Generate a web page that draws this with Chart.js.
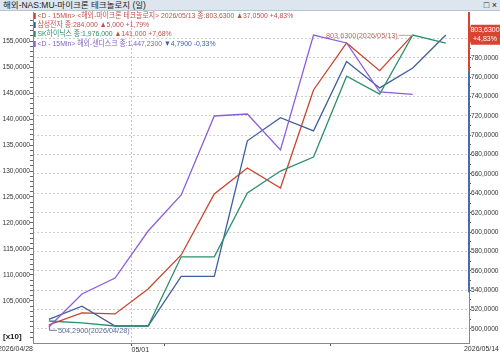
<!DOCTYPE html>
<html>
<head>
<meta charset="utf-8">
<script src="https://cdn.jsdelivr.net/npm/chart.js@4"></script>
<style>
  body { margin: 0; background: #fff; }
  #wrap { position: relative; width: 500px; height: 354px; font-family: "Liberation Sans", "Noto Sans CJK KR", sans-serif; }
  #title { position: absolute; left: 0; top: 0; width: 500px; height: 11px; background: #dde6ef; border-bottom: 1px solid #b8c4d0;
           font-size: 8.5px; line-height: 11px; color: #222; padding-left: 3px; box-sizing: border-box; }
  #title .btns { position: absolute; right: 3px; top: 0; font-size: 9px; }
  .leg { position: absolute; left: 34px; font-size: 8px; line-height: 9px; white-space: nowrap;
         transform: scaleX(0.86); transform-origin: 0 0; }
  .leg i { display: inline-block; width: 2px; height: 6px; margin-right: 2px; vertical-align: -0.5px; }
  canvas { position: absolute; left: 0; top: 0; }
</style>
</head>
<body>
<div id="wrap">
  <canvas id="chart" width="500" height="354"></canvas>
  <div id="title">해외-NAS:MU-마이크론 테크놀로지 (일)<span class="btns">□ ×</span></div>
  <div class="leg" style="top:11px;color:#c0504d"><i style="background:#c8442c"></i>&lt;D - 15Min&gt; &lt;해외-마이크론 테크놀로지&gt; 2026/05/13 종:803,6300 ▲37,0500 +4,83%</div>
  <div class="leg" style="top:20px;color:#c0504d"><i style="background:#3e5f9c"></i>삼성전자 종:284,000 ▲5,000 +1,79%</div>
  <div class="leg" style="top:29px;color:#2e8f6c"><i style="background:#2e8f6c"></i>SK하이닉스 종:1,976,000 <span style="color:#c0504d">▲141,000 +7,68%</span></div>
  <div class="leg" style="top:39px;color:#7d5fc8"><i style="background:#8b5fd8"></i>&lt;D - 15Min&gt; 해외-샌디스크 종:1,447,2300 <span style="color:#3b5ba5">▼4,7900 -0,33%</span></div>
</div>
<script>
// dates (one point per trading day)
const dates = ['2026/04/28', '04/29', '04/30', '05/01', '05/04', '05/05', '05/06', '05/07', '05/08', '05/11', '05/12', '05/13', '2026/05/14'];

// series values
const micron  = [504.29, 516.5, 515.5, 541.3, 576.4, 639.4, 666.2, 645.5, 746.7, 795.2, 766.58, 803.63];
const samsung = [241000, 243000, 240000, 240000, 247500, 247500, 268000, 271500, 269500, 280000, 276000, 279000, 284000];
const hynix   = [1253000, 1248000, 1240000, 1240000, 1420000, 1420000, 1586000, 1643000, 1679500, 1890000, 1843500, 1997000, 1976000];
const sandisk = [1000, 1063.5, 1094, 1184.6, 1254, 1405.8, 1409.6, 1340.4, 1561.5, 1546.2, 1452.0, 1447.23];

// axis ranges / tick labels
const rightRange = [485.5, 827.2];
const leftRange = [969.2, 1605.8];
const leftLabelRange = [1050, 1550];
const xRange = [-0.48, 12.7];
const xTicks = [2.5, 3.5, 8.5];
const xTickLabels = { 2.5: '05/01' };
const rangeBand = [538, 766.58];

const colors = { micron: '#c8442c', samsung: '#3e5f9c', hynix: '#2e8f6c', sandisk: '#8b5fd8' };

const pts = arr => arr.map((v, i) => ({ x: i, y: v }));
const fmt4 = v => v.toFixed(4).replace('.', ',');

// overlay series are stretched to the same band as the main series
function fitAxis(arr) {
  const lo = Math.min(...arr), hi = Math.max(...arr);
  const ppu = 291 / (hi - lo);
  return { min: lo - 17 / ppu, max: hi + 23 / ppu };
}
const sAxis = fitAxis(samsung), hAxis = fitAxis(hynix);

const tickFont = { family: 'Liberation Sans', size: 6.6 };

const overlay = {
  id: 'overlay',
  afterDatasetsDraw(chart) {
    const ctx = chart.ctx, xs = chart.scales.x, yr = chart.scales.yR, area = chart.chartArea;
    ctx.save();
    // right axis band
    ctx.lineWidth = 2;
    ctx.strokeStyle = '#d9432f';
    ctx.beginPath(); ctx.moveTo(area.right, area.top); ctx.lineTo(area.right, yr.getPixelForValue(rangeBand[1])); ctx.stroke();
    ctx.strokeStyle = '#4a6aa8';
    ctx.beginPath(); ctx.moveTo(area.right, yr.getPixelForValue(rangeBand[1])); ctx.lineTo(area.right, yr.getPixelForValue(rangeBand[0])); ctx.stroke();

    ctx.font = '7.3px "Liberation Sans"';
    ctx.textBaseline = 'middle';
    // max label
    const last = micron.length - 1;
    const mx = xs.getPixelForValue(last), my = yr.getPixelForValue(micron[last]);
    ctx.strokeStyle = '#d9968c'; ctx.lineWidth = 1;
    ctx.beginPath(); ctx.moveTo(mx - 14, my + 0.5); ctx.lineTo(mx, my + 0.5); ctx.stroke();
    ctx.fillStyle = '#b86a5e'; ctx.textAlign = 'right';
    ctx.fillText(fmt4(micron[last]) + '(2026/05/13)', mx - 15, my + 1);
    // min label
    const nx = xs.getPixelForValue(0), ny = yr.getPixelForValue(micron[0]);
    ctx.strokeStyle = '#6c7aa8';
    ctx.beginPath(); ctx.moveTo(nx + 0.5, ny); ctx.lineTo(nx + 0.5, ny + 5.5); ctx.lineTo(nx + 8, ny + 5.5); ctx.stroke();
    ctx.fillStyle = '#5b6b9e'; ctx.textAlign = 'left';
    ctx.fillText(fmt4(micron[0]) + '(2026/04/28)', nx + 9, ny + 6);
    // price box on right axis
    ctx.fillStyle = '#d9432f';
    ctx.beginPath();
    ctx.moveTo(area.right - 1, my); ctx.lineTo(area.right + 2, my - 10); ctx.lineTo(500, my - 10);
    ctx.lineTo(500, my + 10); ctx.lineTo(area.right + 2, my + 10); ctx.closePath(); ctx.fill();
    ctx.fillStyle = '#fff'; ctx.textAlign = 'center'; ctx.font = '7px "Liberation Sans"';
    ctx.fillText(fmt4(micron[last]), 485, my - 4.5);
    ctx.fillText('+4,83%', 485, my + 4.5);
    // corner dates and unit
    ctx.fillStyle = '#333'; ctx.font = '7px "Liberation Sans"';
    ctx.textAlign = 'right'; ctx.fillText(dates[0], area.left, area.bottom + 6);
    ctx.fillText(dates[dates.length - 1], 499, area.bottom + 6);
    ctx.textAlign = 'left'; ctx.font = 'bold 8px "Liberation Sans"'; ctx.fillStyle = '#222';
    ctx.fillText('[x10]', 3, area.bottom - 6);
    ctx.restore();
  }
};

const line = (label, data, color, axis) => ({
  label, data: pts(data), yAxisID: axis, borderColor: color, backgroundColor: color,
  borderWidth: 1.3, pointRadius: 0, tension: 0, fill: false
});

new Chart(document.getElementById('chart'), {
  type: 'line',
  data: {
    datasets: [
      line('샌디스크', sandisk, colors.sandisk, 'yL'),
      line('SK하이닉스', hynix, colors.hynix, 'yH'),
      line('삼성전자', samsung, colors.samsung, 'yS'),
      line('마이크론 테크놀로지', micron, colors.micron, 'yR')
    ]
  },
  options: {
    responsive: false,
    devicePixelRatio: 1,
    animation: false,
    layout: { padding: { top: 12, left: 0, right: 0, bottom: 0 } },
    plugins: { legend: { display: false }, tooltip: { enabled: false } },
    scales: {
      x: {
        type: 'linear', min: xRange[0], max: xRange[1],
        afterFit: s => { s.height = 11; },
        afterBuildTicks: s => { s.ticks = xTicks.map(v => ({ value: v })); },
        ticks: { font: { family: 'Liberation Sans', size: 7 }, color: '#333', align: 'start', padding: 0, maxRotation: 0, autoSkip: false,
                 callback: v => xTickLabels[v] || '' },
        grid: { color: c => (c.tick && c.tick.value === 2.5) ? '#c8c8c8' : 'transparent', tickColor: '#555', tickLength: 3 },
        border: { color: '#888', dash: [2, 2] }
      },
      yL: {
        position: 'left', min: leftRange[0], max: leftRange[1],
        afterFit: s => { s.width = 33; },
        afterBuildTicks: s => { s.ticks = s.ticks.filter(t => Math.abs(t.value / 10 - Math.round(t.value / 10)) < 1e-6); },
        ticks: { stepSize: 10, maxTicksLimit: 1000, autoSkip: false, font: tickFont, color: '#333', padding: 0,
                 callback: v => {
                   const r = Math.round(v);
                   return (r % 50 === 0 && r >= leftLabelRange[0] && r <= leftLabelRange[1]) ? fmt4(r / 10) : '';
                 } },
        grid: { drawOnChartArea: false, tickLength: 3, tickColor: '#666' },
        border: { color: '#888' }
      },
      yR: {
        position: 'right', min: rightRange[0], max: rightRange[1],
        afterFit: s => { s.width = 31; },
        afterBuildTicks: s => { s.ticks = s.ticks.filter(t => Math.abs(t.value / 10 - Math.round(t.value / 10)) < 1e-6); },
        ticks: { stepSize: 10, maxTicksLimit: 1000, autoSkip: false, font: tickFont, color: '#333', padding: 0,
                 callback: v => Math.round(v) % 20 === 0 ? fmt4(Math.round(v)) : '' },
        grid: { color: c => (c.tick && Math.round(c.tick.value) % 20 === 0) ? '#cfcfcf' : 'transparent',
                tickLength: 2, tickColor: '#666' },
        border: { color: '#888', dash: [2, 2] }
      },
      yS: { display: false, min: sAxis.min, max: sAxis.max },
      yH: { display: false, min: hAxis.min, max: hAxis.max }
    }
  },
  plugins: [overlay]
});
</script>
</body>
</html>
